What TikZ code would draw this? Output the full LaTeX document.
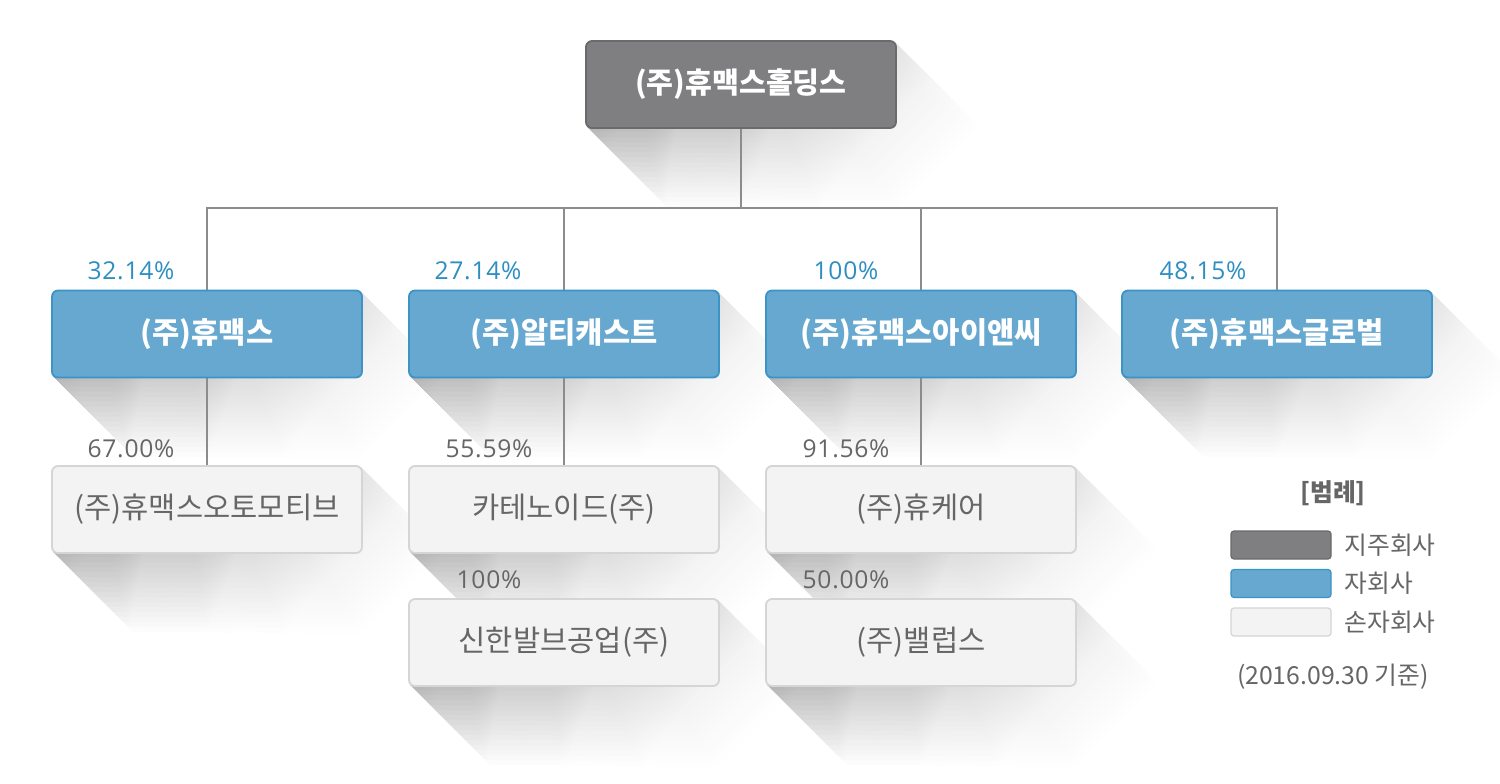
\documentclass[tikz,border=0pt]{standalone}
\usepackage{fontspec}
\setmainfont{Noto Sans CJK KR}
\newfontfamily\numfont[LetterSpace=3]{Open Sans}
\usetikzlibrary{calc}
\definecolor{hold}{HTML}{7F7F82}
\definecolor{holdb}{HTML}{6A6A6D}
\definecolor{sub}{HTML}{66A8D0}
\definecolor{subb}{HTML}{3C94C6}
\definecolor{gsub}{HTML}{F3F3F3}
\definecolor{gsubb}{HTML}{D6D4D6}
\definecolor{ln}{HTML}{8C8C8C}
\definecolor{pct}{HTML}{2C8EC1}
\definecolor{txt}{HTML}{666666}
\newcommand\longshadow[1]{%
  \foreach \d in {5,10,...,80}{%
    \shade[opacity=0.019, top color=black, bottom color=white, shading angle=45] ($(#1.north east)+(-2,2)$) -- ($(#1.north east)+(-2,2)+(\d,\d)$) -- ($(#1.south east)+(\d,\d)$) -- ($(#1.south west)+(2,-2)+(\d,\d)$) -- ($(#1.south west)+(2,-2)$) -- ($(#1.north west)+(2,2)$) -- cycle;}}
\tikzset{
  boxbase/.style={rectangle, rounded corners=3pt, minimum width=155pt, minimum height=43.5pt, line width=0.9pt, font=\fontsize{14.8pt}{16pt}\selectfont, inner sep=0pt},
  holdbox/.style={boxbase, fill=hold, draw=holdb, text=white, font=\fontsize{14.6pt}{16pt}\selectfont\bfseries},
  subbox/.style={boxbase, fill=sub, draw=subb, text=white, font=\fontsize{14.8pt}{16pt}\selectfont\bfseries},
  gbox/.style={boxbase, fill=gsub, draw=gsubb, text=txt},
  conn/.style={draw=ln, line width=1pt},
  pctlabel/.style={text=pct, font=\numfont\fontsize{12.3pt}{14pt}\selectfont},
  glabel/.style={text=txt, font=\numfont\fontsize{12.3pt}{14pt}\selectfont},
  swatch/.style={rectangle, rounded corners=1.5pt, minimum width=50pt, minimum height=14pt, line width=0.6pt, inner sep=0pt},
  legtext/.style={text=txt, font=\fontsize{12.4pt}{14pt}\selectfont, anchor=west, inner sep=0pt},
}
\begin{document}
\begin{tikzpicture}[x=0.5pt,y=-0.5pt]
\useasboundingbox (0,0) rectangle (1500,783);
\fill[white] (0,0) rectangle (1500,783);
\coordinate (ph) at (741,84.5);
\coordinate (p1) at (207,334); \coordinate (p2) at (564,334);
\coordinate (p3) at (921,334); \coordinate (p4) at (1277,334);
\coordinate (q1) at (207,509.5); \coordinate (q2) at (564,509.5);
\coordinate (q3) at (921,509.5);
\coordinate (r2) at (564,642.5); \coordinate (r3) at (921,642.5);
% shadow anchors: phantom nodes
\begin{scope}[every node/.style={boxbase, draw=none, fill=none}]
\node (xh) at (ph) {};
\node (x1) at (p1) {}; \node (x2) at (p2) {}; \node (x3) at (p3) {}; \node (x4) at (p4) {};
\node (y1) at (q1) {}; \node (y2) at (q2) {}; \node (y3) at (q3) {};
\node (z2) at (r2) {}; \node (z3) at (r3) {};
\end{scope}
\longshadow{xh}
\longshadow{x1}\longshadow{x2}\longshadow{x3}\longshadow{x4}
\longshadow{y1}\longshadow{y2}\longshadow{y3}
\longshadow{z2}\longshadow{z3}
% connectors
\coordinate (bus) at (741,208);
\draw[conn] (xh.south) -- (bus);
\draw[conn] (x1.north) -- (x1.north |- bus) -- (x4.north |- bus) -- (x4.north);
\draw[conn] (x2.north) -- (x2.north |- bus);
\draw[conn] (x3.north) -- (x3.north |- bus);
\draw[conn] (x1.south) -- (y1.north);
\draw[conn] (x2.south) -- (y2.north);
\draw[conn] (x3.south) -- (y3.north);
% boxes
\node[holdbox] (h) at (ph) {(주)휴맥스홀딩스};
\node[subbox] (s1) at (p1) {(주)휴맥스};
\node[subbox] (s2) at (p2) {(주)알티캐스트};
\node[subbox] (s3) at (p3) {(주)휴맥스아이앤씨};
\node[subbox] (s4) at (p4) {(주)휴맥스글로벌};
\node[gbox] (g1) at (q1) {(주)휴맥스오토모티브};
\node[gbox] (g2) at (q2) {카테노이드(주)};
\node[gbox] (g3) at (q3) {(주)휴케어};
\node[gbox] (k2) at (r2) {신한발브공업(주)};
\node[gbox] (k3) at (r3) {(주)밸럽스};
% percentages
\node[pctlabel] (l1) at (131,271) {32.14\%};
\node[pctlabel] (l2) at (478,271) {27.14\%};
\node[pctlabel] (l3) at (846,271) {100\%};
\node[pctlabel] (l4) at (1203,271) {48.15\%};
\node[glabel] (m1) at (131,449) {67.00\%};
\node[glabel] (m2) at (489,449) {55.59\%};
\node[glabel] (m3) at (846,449) {91.56\%};
\node[glabel] (n2) at (489,580) {100\%};
\node[glabel] (n3) at (846,580) {50.00\%};
% legend
\node[text=txt, font=\fontsize{12.4pt}{14pt}\selectfont\bfseries] (lt) at (1333,493) {[범례]};
\node[swatch, fill=hold, draw=holdb] (w1) at (1281,545) {};
\node[swatch, fill=sub, draw=subb] (w2) at (1281,583.5) {};
\node[swatch, fill=gsub, draw=gsubb] (w3) at (1281,622) {};
\node[legtext] (t1) at (1344,545) {지주회사};
\node[legtext] (t2) at (1344,583.5) {자회사};
\node[legtext] (t3) at (1344,622) {손자회사};
\node[text=txt, font=\fontsize{12.4pt}{14pt}\selectfont] (dt) at (1333,677) {(2016.09.30 기준)};
\end{tikzpicture}
\end{document}
